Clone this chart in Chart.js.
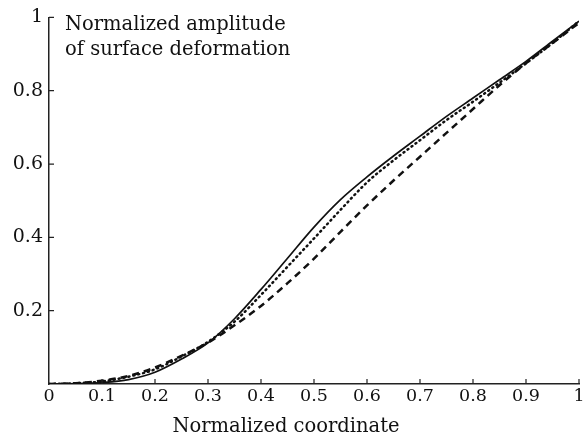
<!DOCTYPE html>
<html>
<head>
<meta charset="utf-8">
<script src="https://cdn.jsdelivr.net/npm/chart.js@4.4.0/dist/chart.umd.min.js"></script>
<style>
html,body{margin:0;padding:0;background:#fff;}
#wrap{width:584px;height:439px;position:relative;}
</style>
</head>
<body>
<div id="wrap"><canvas id="c" width="584" height="439"></canvas></div>
<script>
const xValues = [0,0.05,0.1,0.15,0.2,0.25,0.3,0.35,0.4,0.45,0.5,0.55,0.6,0.65,0.7,0.75,0.8,0.85,0.9,0.95,1.0];
const solidSeries  = [0,0.001,0.004,0.012,0.032,0.068,0.112,0.178,0.258,0.343,0.428,0.503,0.565,0.622,0.676,0.73,0.78,0.83,0.88,0.935,0.99];
const dottedSeries = [0,0.002,0.007,0.02,0.04,0.075,0.115,0.17,0.243,0.32,0.397,0.475,0.55,0.61,0.665,0.72,0.77,0.822,0.875,0.93,0.99];
const dashedSeries = [0,0.002,0.009,0.022,0.045,0.077,0.113,0.16,0.213,0.275,0.342,0.415,0.487,0.555,0.62,0.685,0.75,0.815,0.875,0.93,0.985];
const xTickValues = [0,0.1,0.2,0.3,0.4,0.5,0.6,0.7,0.8,0.9,1];
const yTickValues = [0.2,0.4,0.6,0.8,1];
const yTitleLines = ["Normalized amplitude","of surface deformation"];
const xTitle = "Normalized coordinate";

const FONT = "'DejaVu Serif', serif";
const toPts = ys => xValues.map((x,i)=>({x:x,y:ys[i]}));

const inwardTicks = {
  id:'inwardTicks',
  afterDraw(chart){
    const {ctx, scales:{x,y}, chartArea:a} = chart;
    ctx.save();
    ctx.strokeStyle = '#222';
    ctx.lineWidth = 1.2;
    ctx.beginPath();
    xTickValues.forEach(v=>{
      if (v===0) return;
      const px = x.getPixelForValue(v);
      ctx.moveTo(px, a.bottom); ctx.lineTo(px, a.bottom-5);
    });
    yTickValues.forEach(v=>{
      const py = y.getPixelForValue(v);
      ctx.moveTo(a.left, py); ctx.lineTo(a.left+5, py);
    });
    ctx.stroke();
    ctx.fillStyle = '#111';
    ctx.font = "19.5px " + FONT;
    ctx.textBaseline = 'alphabetic';
    ctx.textAlign = 'left';
    ctx.fillText(yTitleLines[0], a.left+16, a.top+13);
    ctx.fillText(yTitleLines[1], a.left+16, a.top+37.5);
    ctx.textAlign = 'center';
    ctx.fillText(xTitle, 286, a.bottom+48);
    ctx.restore();
  }
};

new Chart(document.getElementById('c'), {
  type:'line',
  data:{
    datasets:[
      {label:'solid', data:toPts(solidSeries), borderColor:'#111', borderWidth:1.7, pointRadius:0, cubicInterpolationMode:'monotone'},
      {label:'dotted', data:toPts(dottedSeries), borderColor:'#111', borderWidth:2.5, borderDash:[1,4], borderCapStyle:'round', pointRadius:0, cubicInterpolationMode:'monotone'},
      {label:'dashed', data:toPts(dashedSeries), borderColor:'#111', borderWidth:2.5, borderDash:[7,5], pointRadius:0, cubicInterpolationMode:'monotone'}
    ]
  },
  options:{
    responsive:false,
    animation:false,
    devicePixelRatio:1,
    layout:{padding:{top:15,right:5,left:0,bottom:0}},
    plugins:{legend:{display:false}, tooltip:{enabled:false}},
    scales:{
      x:{
        type:'linear', min:0, max:1,
        afterBuildTicks(s){ s.ticks = xTickValues.map(v=>({value:v})); },
        afterFit(s){ s.height = 55; s.paddingRight = 0; s.paddingLeft = 0; },
        grid:{display:false, drawTicks:false},
        border:{display:true, color:'#222', width:1.5},
        ticks:{color:'#111', font:{family:FONT, size:17.5}, padding:2, maxRotation:0, autoSkip:false,
          callback:v=>String(v)}
      },
      y:{
        type:'linear', min:0, max:1,
        afterBuildTicks(s){ s.ticks = yTickValues.map(v=>({value:v})); },
        afterFit(s){ s.width = 49; },
        grid:{display:false, drawTicks:false},
        border:{display:true, color:'#222', width:1.5},
        ticks:{color:'#111', font:{family:FONT, size:19}, padding:6,
          callback:v=>String(v)}
      }
    }
  },
  plugins:[inwardTicks]
});
</script>
</body>
</html>
